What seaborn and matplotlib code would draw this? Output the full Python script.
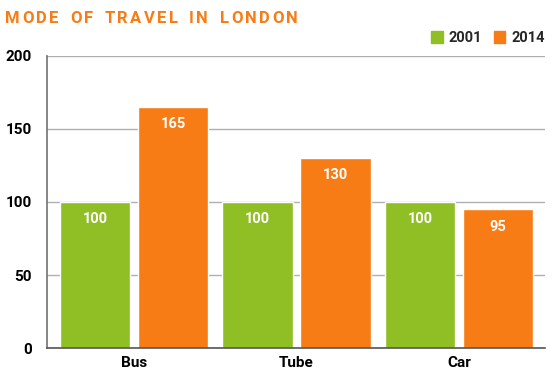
import pandas as pd
import matplotlib
matplotlib.use("Agg")
import matplotlib.pyplot as plt
import seaborn as sns
from matplotlib.patches import Patch

modes = ["Bus", "Tube", "Car"]
years = ["2001", "2014"]
values_2001 = [100, 100, 100]
values_2014 = [165, 130, 95]
y_ticks = [0, 50, 100, 150, 200]
title = "MODE OF TRAVEL IN LONDON"

GREEN = "#8fbe25"
ORANGE = "#f77c15"

sns.set_theme(style="white")
plt.rcParams["font.family"] = ["Roboto", "DejaVu Sans"]

df = pd.DataFrame({
    "mode": modes * 2,
    "year": [years[0]] * 3 + [years[1]] * 3,
    "value": values_2001 + values_2014,
})

fig = plt.figure(figsize=(5.55, 3.8), dpi=100)
ax = fig.add_axes([0.085, 0.084, 0.897, 0.769])

ax.set_axisbelow(True)
ax.yaxis.grid(True, color="#b0b0b0", linewidth=1)
sns.barplot(data=df, x="mode", y="value", hue="year", palette=[GREEN, ORANGE],
            width=0.96, gap=0.1, ax=ax, legend=False, saturation=1)

ax.set_xlim(-0.535, 2.53)
ax.set_ylim(0, 200)
ax.set_yticks(y_ticks)
ax.set_xlabel("")
ax.set_ylabel("")
for s in ["top", "right"]:
    ax.spines[s].set_visible(False)
ax.spines["left"].set_color("#777777")
ax.spines["bottom"].set_color("#555555")
ax.spines["bottom"].set_linewidth(1.2)
ax.tick_params(axis="y", length=5, color="#b0b0b0", width=1, pad=6, labelsize=11)
ax.tick_params(axis="x", length=0, pad=6, labelsize=11)
for lab in ax.get_xticklabels() + ax.get_yticklabels():
    lab.set_fontweight("bold")
    lab.set_color("black")

for cont in ax.containers:
    for bar in cont:
        h = bar.get_height()
        ax.text(bar.get_x() + bar.get_width() / 2, h - 7, f"{h:.0f}",
                ha="center", va="top", color="white", fontsize=10.5,
                fontweight="bold")

# letter-spaced title, drawn char by char to span roughly x=5..298 px
renderer = fig.canvas.get_renderer()
chars = []
for ch in title:
    t = fig.text(0, 0.952, ch, color=ORANGE, fontsize=12, fontweight="bold",
                 ha="left", va="center")
    w = 7 if ch == " " else t.get_window_extent(renderer).width
    chars.append((t, w))
total_w = sum(w for _, w in chars)
tracking = (298 - 5 - total_w) / (len(chars) - 1)
x = 5
for t, w in chars:
    t.set_x(x / 555)
    x += w + tracking

handles = [Patch(color=GREEN, label=years[0]), Patch(color=ORANGE, label=years[1])]
leg = fig.legend(handles=handles, loc="center right", bbox_to_anchor=(1.005, 0.9),
                 ncol=2, frameon=False, handlelength=0.8, handleheight=0.8,
                 handletextpad=0.4, columnspacing=0.8, prop={"weight": "bold", "size": 10.5})

fig.savefig("out.png", dpi=100)
